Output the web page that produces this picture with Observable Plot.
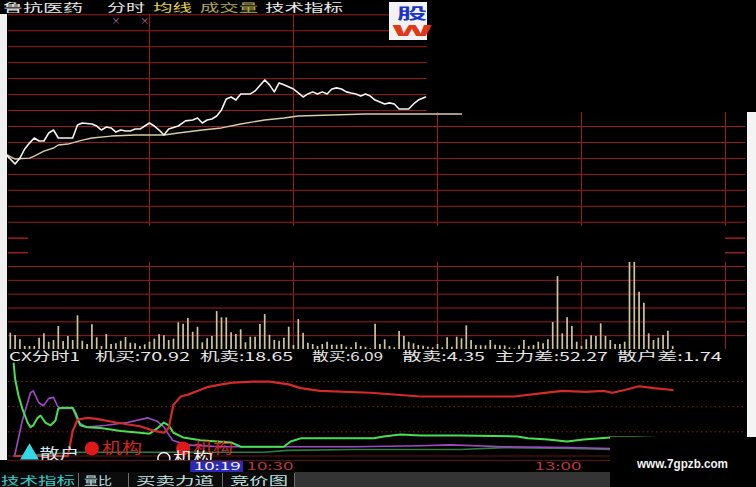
<!DOCTYPE html>
<html><head><meta charset="utf-8">
<script src="https://cdn.jsdelivr.net/npm/d3@7"></script>
<script src="https://cdn.jsdelivr.net/npm/@observablehq/plot@0.6"></script>
<style>
html,body{margin:0;padding:0;background:#000;}
#wrap{position:relative;width:756px;height:487px;overflow:hidden;background:#000;font-family:"Noto Sans CJK SC",sans-serif;}
.abs{position:absolute;}
.abs svg{display:block;}
</style></head><body><div id="wrap"></div>
<script>
// ---------------- DATA ----------------
const stockName = "鲁抗医药";
const menuLabels = ["分时", "均线", "成交量", "技术指标"];
// intraday price, % change vs previous close, by minute after 9:30
const priceMinutes = [0,2,3,4,5,6,7,8,9,10,11,12,14,15,16,18,19,20,21,22,23,24,25,26,27,28,29,30,31,32,33,34,36,37.5,39,40,41,42,43,44,45,46,47,48,49,51,52,54,55,56,57,58,60,61,62,63,64,65,66,67,68,69,70,71,72,73,74,75,76,77,79,80,81,82,84,85,86,87.5];
const pricePct = [-1.73,-2.35,-1.98,-1.41,-1.04,-0.72,-0.91,-0.91,-0.41,-0.22,-0.72,-0.72,-0.72,0.09,0.22,0.16,0.03,-0.22,-0.03,-0.09,-0.35,-0.22,-0.28,-0.28,-0.16,-0.16,0.03,0.22,0.03,-0.22,-0.53,-0.16,0.03,0.35,0.41,0.53,0.22,0.41,0.47,0.66,1.04,1.73,1.85,1.66,2.04,2.04,2.23,2.92,2.61,2.17,2.73,2.61,2.35,2.10,1.85,2.04,2.17,2.04,2.17,2.04,2.35,2.42,2.35,2.17,2.10,2.04,1.91,2.04,1.91,1.66,1.41,1.48,1.41,1.10,1.10,1.41,1.66,1.85];
// average price line
const avgMinutes = [0,2,5,6,8,10,11,13,16,18,22,27,33,36,41,45,49,54,58,61,68,75,82,91,95];
const avgPct = [-1.73,-2.04,-1.98,-1.85,-1.54,-1.35,-1.16,-1.10,-0.85,-0.72,-0.60,-0.53,-0.53,-0.41,-0.22,-0.09,0.16,0.41,0.53,0.66,0.72,0.78,0.78,0.78,0.78];
const topMarkMinutes = [23, 29];
// volume per minute (first bar = minute 1)
const volStartMinute = 1;
const volumes = [163,140,97,30,30,30,113,157,73,90,230,80,130,90,337,83,50,247,117,30,150,50,57,83,120,63,57,30,47,73,103,147,137,90,103,267,253,310,173,223,67,107,130,380,317,317,167,150,197,67,123,123,250,350,143,90,83,113,223,40,300,163,63,50,30,50,73,43,43,50,23,17,67,30,23,7,253,50,97,30,17,180,130,73,57,40,33,23,17,50,17,117,23,123,107,237,90,40,37,37,90,43,37,37,17,7,37,90,30,40,73,57,97,270,730,157,317,230,73,30,97,137,130,257,130,90,50,50,73,873,873,573,463,157,90,113,140,183,30];
// CX分时1 indicator
const indicatorName = "CX分时1";
const statNames = ["机买", "机卖", "散买", "散卖", "主力差", "散户差"];
const statValues = [70.92, 18.65, 6.09, 4.35, 52.27, 1.74];
const instBuyMin = [2,13,14,15,17,19,23,28,31,33,34,34.5,35,36.5,38,40.5,42,45,47.5,51.5,55,59,61.5,65.5,76,86.5,97,106,111,116,121,124.5,126.5,129,132,135,139];
const instBuyVal = [0,0,27,39,41,40,36,32,27,25,30,43,55,64,66,71,74,77,79,80,80,77,73,70,68,64,64,64,67,70,69,70,68,71,75,73,71];
const instSellMin = [1.7,2,2.7,3.5,4.6,5.2,5.8,6.7,7.3,8.3,9.4,10.4,11,11.9,14,14.6,15.6,17,19.8,24,28,30,31.7,33,34,35,37,40.6,47,49,55,58,59.4,61.5,72.5,76.7,78.8,82.3,86.5,94.8,106.7,108.8,113,117,120.4,126,130.8,138.5];
const instSellVal = [99.5,83,65,51,36,31,33,41,43.5,36,33,38,51,52,52,46,33,31,30,27,25,24,30,36,33,25,20,17,14.5,10,10,10,15.6,19,19,19,21,23,22,22,21,19,17.7,15.6,17.7,20,20,19];
const retailBuyMin = [1.9,3.5,5.2,5.8,6.9,7.9,9,10,10.8,11.5,14,15.2,17,21,25.4,29.6,31.7,33,34.8,37.5,44.8,58.8,72.5,86.5,92.7,103.8,117.7,126,139];
const retailBuyVal = [0,38,68,70,57.5,54,62,63,54,51,51,36,31,33,36,41,37,31,17,12,10,10,10,11,12,10,9,8,6];
const retailSellMin = [1.7,15.6,44.8,53.8,58.8,72.5,83.8,94.8,103.8,117.7,126,139];
const retailSellVal = [0,4,4,4,6,7,7,7,9,8,7,4.5];
const indicatorGrid = [26, 53, 80];
const retailSignalMin = [5];
const instSignalMin = [18, 37];
const instHollowMin = [33];
// time axis
const timeLabels = ["10:30", "13:00"];
const timeLabelMin = [60, 120];
const cursorMinute = 49;
const cursorLabel = "10:19";
const tabLabels = ["技术指标", "量比", "买卖力道", "竞价图"];
const watermark = "www.7gpzb.com";

// ---------------- LAYOUT ----------------
const wrap = document.getElementById("wrap");
const xDomain = [0.625, 154.17];
const timeGrid = [30, 60, 90, 120, 150];
const GRID = "#9a1e1e";
const FONT = "'Noto Sans CJK SC', sans-serif";
const baseStyle = {background: "transparent", fontFamily: FONT, overflow: "visible"};

function place(node, left, top) {
  const d = document.createElement("div");
  d.className = "abs";
  d.style.left = left + "px"; d.style.top = top + "px";
  d.appendChild(node); wrap.appendChild(d); return d;
}
function box(left, top, w, h, bg) {
  const d = document.createElement("div");
  d.className = "abs";
  Object.assign(d.style, {left: left + "px", top: top + "px", width: w + "px", height: h + "px", background: bg});
  wrap.appendChild(d); return d;
}
function stretch(svg, lenFn) {
  svg.querySelectorAll('g[aria-label="text"] text').forEach(t => {
    const L = lenFn(t.textContent);
    if (L) { t.setAttribute("textLength", L); t.setAttribute("lengthAdjust", "spacingAndGlyphs"); }
  });
}

// price panel
const pricePlot = Plot.plot({
  width: 756, height: 228, marginLeft: 8, marginRight: 11, marginTop: 2.3, marginBottom: 2.3,
  style: baseStyle,
  x: {domain: xDomain, axis: null},
  y: {domain: [-7, 7], axis: null},
  marks: [
    Plot.ruleY(d3.range(-6, 8), {stroke: GRID, strokeWidth: 1}),
    Plot.ruleX(timeGrid, {y1: 7, y2: -6.25, stroke: GRID, strokeWidth: 1}),
    Plot.ruleY([-7], {x1: xDomain[0], x2: xDomain[0] + 4.2, stroke: GRID, strokeWidth: 1.5}),
    Plot.ruleY([-7], {x1: xDomain[1] - 4.2, x2: xDomain[1], stroke: GRID, strokeWidth: 1.5}),
    Plot.line(avgMinutes, {x: d => d, y: (d, i) => avgPct[i], stroke: "#d8cca4", strokeWidth: 1.4}),
    Plot.line(priceMinutes, {x: d => d, y: (d, i) => pricePct[i], stroke: "#f4f4f4", strokeWidth: 1.6}),
    Plot.text(topMarkMinutes, {x: d => d, y: 6.6, text: () => "×", fill: "#c46fb2", fontSize: 9})
  ]
});
place(pricePlot, 0, 12);

// volume panel
const VMAX = 970;
const volPlot = Plot.plot({
  width: 756, height: 100, marginLeft: 8, marginRight: 11, marginTop: 2.2, marginBottom: 1,
  style: baseStyle,
  x: {domain: xDomain, axis: null},
  y: {domain: [0, VMAX], axis: null},
  marks: [
    Plot.ruleY(d3.range(1, 7).map(i => i * VMAX / 7), {stroke: GRID, strokeWidth: 1}),
    Plot.ruleX(timeGrid, {y1: 0, y2: d3.max(volumes), stroke: GRID, strokeWidth: 1}),
    Plot.ruleY([VMAX], {x1: xDomain[0], x2: xDomain[0] + 4.2, stroke: GRID, strokeWidth: 1.5}),
    Plot.ruleY([VMAX], {x1: xDomain[1] - 4.2, x2: xDomain[1], stroke: GRID, strokeWidth: 1.5}),
    Plot.ruleX(volumes, {x: (d, i) => i + volStartMinute, y1: 0, y2: d => d, stroke: "#cfc596", strokeWidth: 1.7})
  ]
});
place(volPlot, 0, 250);

// indicator panel
const indPlot = Plot.plot({
  width: 756, height: 99, marginLeft: 8, marginRight: 11, marginTop: 0.5, marginBottom: 5.5,
  style: baseStyle,
  x: {domain: xDomain, axis: null},
  y: {domain: [0, 100], axis: null},
  marks: [
    Plot.ruleY(indicatorGrid, {stroke: "#8a1c1c", strokeDasharray: "1.5,3"}),
    Plot.ruleY([0], {stroke: "#6a1414"}),
    Plot.line(retailSellMin, {x: d => d, y: (d, i) => retailSellVal[i], stroke: "#2f7d3c", strokeWidth: 1.6}),
    Plot.line(retailBuyMin, {x: d => d, y: (d, i) => retailBuyVal[i], stroke: "#a048c8", strokeWidth: 1.6}),
    Plot.line(instSellMin, {x: d => d, y: (d, i) => instSellVal[i], stroke: "#48e050", strokeWidth: 2}),
    Plot.line(instBuyMin, {x: d => d, y: (d, i) => instBuyVal[i], stroke: "#d42a2a", strokeWidth: 2.2}),
    Plot.dot(retailSignalMin, {x: d => d, y: 2, symbol: "triangle", r: 7, fill: "#35d6e6"}),
    Plot.text(retailSignalMin, {x: d => d, y: 2, dx: 10, text: () => "散户", textAnchor: "start", fill: "#cfe3f0", fontSize: 15}),
    Plot.dot(instSignalMin, {x: d => d, y: 8, r: 7, fill: "#e01818"}),
    Plot.text(instSignalMin, {x: d => d, y: 8, dx: 10, text: () => "机构", textAnchor: "start", fill: "#d42222", fontSize: 15}),
    Plot.dot(instHollowMin, {x: d => d, y: -2.7, r: 6, stroke: "#f0f0f0", strokeWidth: 1.5, fill: "none"}),
    Plot.text(instHollowMin, {x: d => d, y: -2.7, dx: 9, text: () => "机构", textAnchor: "start", fill: "#f0f0f0", fontSize: 15})
  ]
});
stretch(indPlot, s => 40);
place(indPlot, 0, 362);

// decorations
box(427, 0, 329, 112, "#000");          // dark block over top right
box(0, 14, 7, 446, "#f0f0f0");          // left strip
box(747, 112, 9, 325, "#f4f4f4");       // right strip
const logo = box(389, 2, 38, 38, "#f2f2f2");
logo.style.overflow = "hidden";

// time axis row
box(0, 460, 756, 12, "#000");
box(8, 460, 737, 1, "#5e1414");
const axisPlot = Plot.plot({
  width: 756, height: 11, marginLeft: 8, marginRight: 11, marginTop: 0, marginBottom: 0,
  style: baseStyle,
  x: {domain: xDomain, axis: null},
  marks: [
    Plot.rect([cursorMinute], {x1: d => d - 10.4, x2: d => d + 0.6, fill: "#2a2ab4"}),
    Plot.text(timeLabelMin, {x: d => d, text: (d, i) => timeLabels[i], frameAnchor: "middle", textAnchor: "end", fill: "#b83a3a", fontSize: 10.5}),
    Plot.text([cursorMinute], {x: d => d, text: () => cursorLabel, frameAnchor: "middle", textAnchor: "end", fill: "#f4f4f4", fontSize: 10.5})
  ]
});
stretch(axisPlot, s => s.length * 9.4);
place(axisPlot, 0, 461);

// tab row
box(0, 472, 756, 15, "#343434");
box(0, 472, 295, 15, "#0c0c0c");
[78, 128, 222, 294].forEach(x => box(x, 473, 1, 14, "#707070"));
// watermark block
box(610, 437, 146, 50, "#000");

// text overlay
const T = d3.create("svg").attr("width", 756).attr("height", 487)
  .style("position", "absolute").style("left", "0px").style("top", "0px")
  .attr("font-family", FONT);
function label(str, x, y, w, fill, size, weight) {
  T.append("text").attr("x", x).attr("y", y).attr("textLength", w).attr("lengthAdjust", "spacingAndGlyphs")
    .attr("fill", fill).attr("font-size", size).attr("font-weight", weight || 400).text(str);
}
// title row
label(stockName, 3, 12, 80, "#e8e8e8", 11);
const menuPos = [[107, 38], [153, 39], [200, 58], [265, 78]];
const menuColors = ["#e8e8e8", "#e2d83c", "#b2a956", "#e8e8e8"];
menuLabels.forEach((s, i) => label(s, menuPos[i][0], 12, menuPos[i][1], menuColors[i], 11));
// logo
label("股", 397, 19, 30, "#1834c8", 15, 700);
label("W", 392, 36, 40, "#e2381a", 14, 900);
// stats row
label(indicatorName, 9, 360.5, 71, "#e6e6e6", 12);
const statPos = [[95, 95], [200, 93], [312, 71], [402, 83], [495, 113], [617, 105]];
statNames.forEach((n, i) => label(`${n}:${statValues[i].toFixed(2)}`, statPos[i][0], 360.5, statPos[i][1], "#e6e6e6", 12));
// tabs
const tabPos = [[1, 74], [84, 28], [136, 78], [230, 58]];
const tabColors = ["#2ecaca", "#bfe0e0", "#bfe0e0", "#bfe0e0"];
tabLabels.forEach((s, i) => label(s, tabPos[i][0], 485, tabPos[i][1], tabColors[i], 11));
// watermark
T.append("text").attr("x", 637).attr("y", 468).attr("textLength", 91).attr("lengthAdjust", "spacingAndGlyphs")
  .attr("fill", "#f2f2f2").attr("font-size", 12.5).attr("font-weight", 700)
  .attr("font-family", "'Liberation Sans', 'DejaVu Sans', sans-serif").text(watermark);
wrap.appendChild(T.node());
</script>
</body></html>
